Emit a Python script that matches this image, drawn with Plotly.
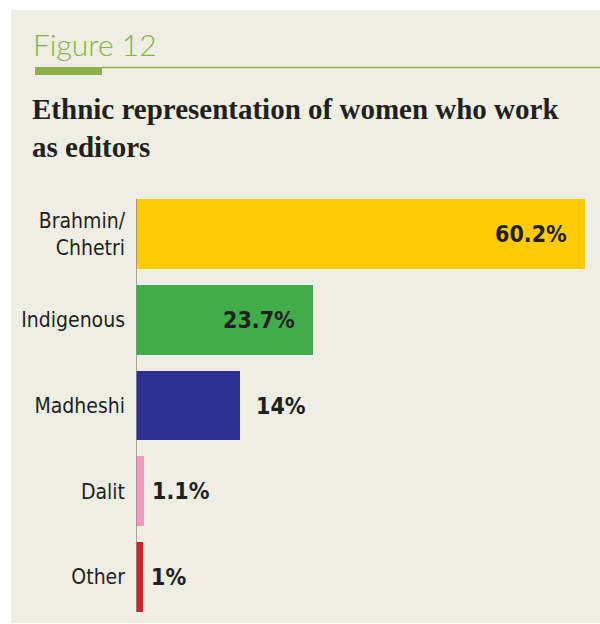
import plotly.graph_objects as go

# Share of women editors by ethnic group (%)
categories = ["Brahmin/<br>Chhetri", "Indigenous", "Madheshi", "Dalit", "Other"]
values = [60.2, 23.7, 14, 1.1, 1]
value_labels = ["60.2%", "23.7%", "14%", "1.1%", "1%"]
bar_colors = ["#FFCB05", "#40AD4A", "#2E3192", "#F49AC1", "#D2232A"]

W, H = 600, 624
L, R, T, B = 136, 15, 191, 4
PANEL = "#EFEEE4"
GREEN = "#8DB04A"
INK = "#231F20"
COND = "DejaVu Sans Condensed, sans-serif"


def xp(px):
    return (px - L) / (W - L - R)


def yp(py):
    return (H - B - py) / (H - T - B)


fig = go.Figure(
    go.Bar(
        x=values,
        y=categories,
        orientation="h",
        marker=dict(color=bar_colors, line=dict(width=0)),
        width=0.815,
        hoverinfo="skip",
    )
)

# value labels: inside the long bars, just past the end of the short ones
annotations = []
for cat, v, lab in zip(categories, values, value_labels):
    inside = v > 20
    annotations.append(
        dict(
            x=v, y=cat, xref="x", yref="y", text=f"<b>{lab}</b>", showarrow=False,
            xanchor="right" if inside else "left",
            xshift=-16 if inside else (14 if v > 5 else 6),
            font=dict(family=COND, size=23, color=INK),
        )
    )

annotations += [
    dict(
        x=xp(31), y=yp(44), xref="paper", yref="paper", text="Figure 12",
        showarrow=False, xanchor="left", yanchor="middle",
        font=dict(family="Lato", size=30, color=GREEN, weight=300),
    ),
    dict(
        x=xp(30), y=yp(128), xref="paper", yref="paper",
        text="<b>Ethnic representation of women who work<br>as editors</b>",
        showarrow=False, xanchor="left", yanchor="middle", align="left",
        font=dict(family="Liberation Serif, serif", size=29, color=INK),
    ),
]

shapes = [
    # panel
    dict(type="rect", xref="paper", yref="paper", x0=xp(11), x1=xp(600),
         y0=yp(623), y1=yp(10), fillcolor=PANEL, line=dict(width=0), layer="below"),
    # heading rule
    dict(type="line", xref="paper", yref="paper", x0=xp(102), x1=xp(600),
         y0=yp(67.5), y1=yp(67.5), line=dict(color=GREEN, width=1.5), layer="below"),
    dict(type="rect", xref="paper", yref="paper", x0=xp(35), x1=xp(102),
         y0=yp(75), y1=yp(67), fillcolor=GREEN, line=dict(width=0), layer="below"),
    # baseline axis
    dict(type="line", xref="x", yref="y", x0=0, x1=0, y0=-0.41, y1=4.41,
         line=dict(color="#8C8C8C", width=1.5), layer="above"),
]

fig.update_layout(
    width=W, height=H,
    margin=dict(l=L, r=R, t=T, b=B, autoexpand=False),
    paper_bgcolor="white",
    plot_bgcolor="rgba(0,0,0,0)",
    showlegend=False,
    bargap=0,
    annotations=annotations,
    shapes=shapes,
    xaxis=dict(visible=False, range=[0, 60.2], fixedrange=True, automargin=False),
    yaxis=dict(
        categoryorder="array", categoryarray=categories, range=[4.5, -0.5],
        showgrid=False, zeroline=False, showline=False, ticks="",
        ticklabelstandoff=10, automargin=False,
        tickfont=dict(family=COND, size=21, color=INK), fixedrange=True,
    ),
)

fig.write_html("out.html")
